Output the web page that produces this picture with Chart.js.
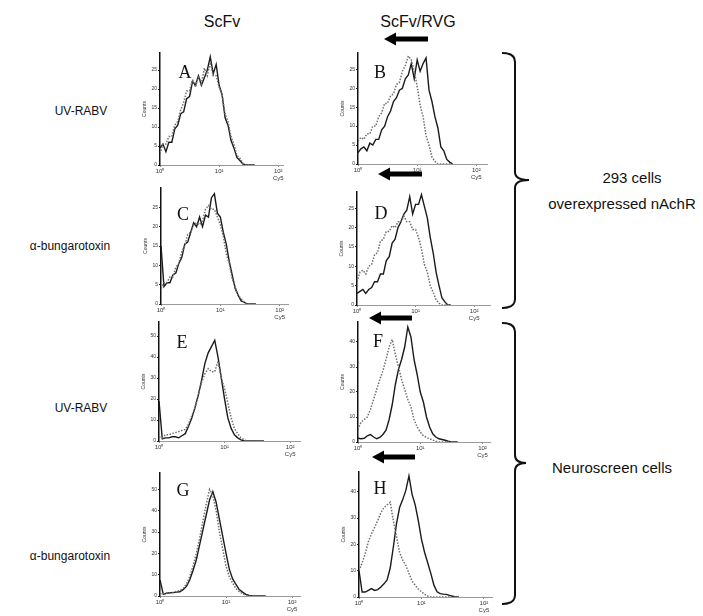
<!DOCTYPE html>
<html>
<head>
<meta charset="utf-8">
<script src="https://cdn.jsdelivr.net/npm/chart.js@4.4.1/dist/chart.umd.min.js"></script>
<style>
  body { margin: 0; background: #fff; }
  #fig { position: relative; width: 703px; height: 616px; overflow: hidden; font-family: Arial, "Liberation Sans", sans-serif; color: #111; }
  .lbl { position: absolute; white-space: nowrap; transform: translate(-50%, -50%); line-height: 1; }
  .head { font-size: 16px; }
  .row { font-size: 12px; }
  .side { font-size: 15px; }
  .letter { font-family: "Liberation Serif", "DejaVu Serif", serif; font-size: 18px; }
  canvas { position: absolute; }
  svg { position: absolute; left: 0; top: 0; }
</style>
</head>
<body>
<div id="fig">
  <div class="lbl head" style="left:222px; top:22px;">ScFv</div>
  <div class="lbl head" style="left:418px; top:22px;">ScFv/RVG</div>

  <div class="lbl row" style="left:81px; top:111px;">UV-RABV</div>
  <div class="lbl row" style="left:70px; top:246px;">α-bungarotoxin</div>
  <div class="lbl row" style="left:81px; top:408px;">UV-RABV</div>
  <div class="lbl row" style="left:70px; top:556px;">α-bungarotoxin</div>

  <div class="lbl side" style="left:632px; top:177px;">293 cells</div>
  <div class="lbl side" style="left:622px; top:203px;">overexpressed nAchR</div>
  <div class="lbl side" style="left:612px; top:467px;">Neuroscreen cells</div>

  <svg width="703" height="616">
    <g fill="#000">
      <path d="M384 39 L396 32.5 L396 36.5 L428 36.5 L428 41.5 L396 41.5 L396 45.5 Z"/>
      <path d="M378 174 L390 167.5 L390 171.5 L422 171.5 L422 176.5 L390 176.5 L390 180.5 Z"/>
      <path d="M369 318 L381 311.5 L381 315.5 L412 315.5 L412 320.5 L381 320.5 L381 324.5 Z"/>
      <path d="M372 457 L384 450.5 L384 454.5 L415 454.5 L415 459.5 L384 459.5 L384 463.5 Z"/>
    </g>
    <g fill="none" stroke="#111" stroke-width="2">
      <path d="M502 53 Q515 53 515 62 L515 172 Q515 180 529 180 Q515 180 515 188 L515 299 Q515 308 502 308"/>
      <path d="M502 323 Q515 323 515 332 L515 455 Q515 463 526 463 Q515 463 515 471 L515 595 Q515 604 502 604"/>
    </g>
  </svg>
</div>
<script>
// fluorescence bins, log10 of Cy5 intensity
const bins = [0, 0.05, 0.1, 0.15, 0.2, 0.25, 0.3, 0.35, 0.4, 0.45, 0.5, 0.55, 0.6, 0.65, 0.7, 0.75, 0.8,
              0.85, 0.9, 0.95, 1.0, 1.05, 1.1, 1.15, 1.2, 1.25, 1.3, 1.35, 1.4, 1.45, 1.5, 1.55, 1.6];

// counts per bin (solid = control, dotted = treated)
const solidA = [4.5, 5.5, 3.5, 6, 6, 9.5, 10.5, 13.5, 14, 17.5, 18, 22, 21, 23.5, 21, 23, 25, 28.5, 24, 26.5, 21, 18.5, 12.5, 10.5, 6.5, 4.5, 2, 1.2, 0.3, 0, 0, 0, 0];
const dottedA = [3, 5.5, 5.5, 7.5, 7.5, 10.5, 11.5, 14.5, 16.5, 19.5, 19.5, 22.5, 20.5, 23.5, 21.5, 25.5, 23.5, 27, 23.5, 23.5, 20.5, 18.5, 13.5, 11.5, 7.5, 5.5, 2.5, 1.8, 0.5, 0, 0, 0, 0];
const solidB = [3, 4, 4.5, 3.5, 5.5, 5, 6.5, 6.5, 9, 10, 12.5, 14, 16.5, 17.5, 19.5, 20, 22.5, 23.5, 26.5, 22.5, 27.5, 24.5, 26.5, 28, 19.5, 16.5, 12.5, 9.5, 4.5, 3.5, 1.2, 0.5, 0];
const dottedB = [6, 7, 6.5, 8, 8, 10, 10, 12.5, 13.5, 16, 16, 18, 18.5, 21, 21.5, 24.5, 26, 28.5, 27.5, 24.5, 20.5, 15.5, 12.5, 7.5, 5, 1.8, 0.7, 0, 0, 0, 0, 0, 0];
const solidC = [15, 4.5, 5.5, 5.5, 7.5, 8, 10.5, 12, 15.5, 16, 18.5, 21, 20, 22.5, 20, 23, 22.5, 27.5, 28.5, 23.5, 22.5, 18.5, 15.5, 11, 7.5, 4, 2.3, 0.8, 0.5, 0, 0, 0, 0];
const dottedC = [4, 5.5, 5.5, 7, 7, 9.5, 10.5, 13.5, 15, 18, 18.5, 20.5, 21, 20.5, 21.5, 24.5, 25.5, 24.5, 24.5, 22.5, 20.5, 17.5, 13, 10.5, 6.5, 4.5, 2.2, 1.4, 0.4, 0, 0, 0, 0];
const solidD = [3, 3.5, 4, 3, 4, 4.5, 6, 6, 8, 8, 11.5, 12.5, 16, 17, 20, 21.5, 23.5, 24.5, 28, 23.5, 26, 26, 28.5, 25.5, 22.5, 17.5, 13.5, 8.5, 5, 1.8, 0.8, 0, 0];
const dottedD = [6, 8.5, 9, 8, 10, 10.5, 13, 13.5, 16.5, 17, 19, 19, 20.5, 20, 21.5, 21.5, 23, 21.5, 21.5, 19.5, 19.5, 17.5, 14.5, 10.5, 8.5, 5, 3.3, 1.3, 0.5, 0, 0, 0, 0];
const solidE = [19, 1, 1.5, 1.5, 2, 2, 1.5, 2.5, 3.5, 7, 11, 16, 22, 29, 37, 42, 45, 48, 40, 30, 20, 11, 6, 3, 1.5, 0.5, 0, 0, 0, 0, 0, 0, 0];
const dottedE = [2, 1.5, 3, 3, 3.5, 4, 4.5, 5, 5.5, 8, 12, 16, 22, 28, 32, 34.5, 33, 33, 38, 30, 25, 18, 11, 6, 3.5, 1.5, 0.5, 0, 0, 0, 0, 0, 0];
const solidF = [1.5, 1.3, 1.5, 2.5, 3, 2, 1.3, 1.8, 3, 4.7, 9, 15, 23, 29, 33, 38, 46, 42, 33, 27, 20, 16, 10, 6, 3.3, 2, 1.3, 1, 0.7, 0.3, 0, 0, 0];
const dottedF = [5, 8, 9, 10, 13, 17, 21, 25, 28.5, 33, 38, 41, 35, 30, 25, 21, 17, 14, 9, 6, 4, 2.5, 1.8, 1.3, 0.8, 0.3, 0, 0, 0, 0, 0, 0, 0];
const solidG = [7.5, 0.8, 1.3, 1.5, 1.6, 1.8, 2, 3, 4.5, 7.5, 12, 17, 24, 31, 38, 45, 49, 44, 36, 28, 20, 12.5, 8, 5.5, 3, 1.8, 0.8, 0.3, 0, 0, 0, 0, 0];
const dottedG = [1, 1, 1.3, 1.5, 1.8, 2.2, 2.5, 3.5, 5.5, 9, 14, 20, 27, 35, 43, 50, 47, 40, 30, 22, 14, 9, 6, 3.5, 2, 1, 0.3, 0, 0, 0, 0, 0, 0];
const solidH = [10, 1.9, 1.9, 2.5, 3.2, 2.5, 2.8, 3.8, 5, 6.5, 11, 19, 27.8, 34, 37, 40.5, 46, 39, 35, 29, 22, 17, 13, 9, 4.5, 2, 1.3, 1.1, 1, 0.6, 0.3, 0, 0];
const dottedH = [10, 13, 16.5, 21, 24, 26.5, 29, 32, 34, 35, 36, 29, 23, 17, 14, 12, 9, 6, 4.5, 3, 2, 1, 0.4, 0, 0, 0, 0, 0, 0, 0, 0, 0, 0];

// axis ticks
const xTickExp = [0, 1, 2];
const xTickLabels = ['10⁰', '10¹', ['10²', 'Cy5']];
const yTicksSmall = [0, 5, 10, 15, 20, 25];
const yTicksLarge = [0, 10, 20, 30, 40, 50];

// panel placement: plot box [left, top, right, bottom] in page px, axis ranges
const panels = [
    { letter: 'A', solid: solidA, dotted: dottedA, yTicks: yTicksSmall, box: [160, 53, 283, 165], yMax: 29.5, xMax: 2.08, lx: 185, ly: 72 },
    { letter: 'B', solid: solidB, dotted: dottedB, yTicks: yTicksSmall, box: [358, 53, 487, 164], yMax: 29.3, xMax: 2.18, lx: 380, ly: 72 },
    { letter: 'C', solid: solidC, dotted: dottedC, yTicks: yTicksSmall, box: [161, 188, 288, 304], yMax: 30, xMax: 2.14, lx: 183, ly: 214 },
    { letter: 'D', solid: solidD, dotted: dottedD, yTicks: yTicksSmall, box: [357, 192, 490, 305], yMax: 29.2, xMax: 2.27, lx: 381, ly: 213 },
    { letter: 'E', solid: solidE, dotted: dottedE, yTicks: yTicksLarge, box: [159, 322, 300, 441], yMax: 56.7, xMax: 2.15, lx: 182, ly: 342 },
    { letter: 'F', solid: solidF, dotted: dottedF, yTicks: yTicksLarge, box: [358, 322, 490, 442], yMax: 48, xMax: 2.12, lx: 378, ly: 341 },
    { letter: 'G', solid: solidG, dotted: dottedG, yTicks: yTicksLarge, box: [160, 473, 300, 596], yMax: 57.7, xMax: 2.12, lx: 183, ly: 490 },
    { letter: 'H', solid: solidH, dotted: dottedH, yTicks: yTicksLarge, box: [359, 472, 492, 597], yMax: 47.5, xMax: 2.13, lx: 380, ly: 488 }
];

const fig = document.getElementById('fig');
const PAD_L = 18, PAD_B = 16, PAD_T = 2, PAD_R = 8;

function toPoints(values) {
    return bins.map((e, i) => ({ x: Math.pow(10, e), y: values[i] }));
}

function drawPanel(p) {
    const [L, T, R, B] = p.box;
    const cv = document.createElement('canvas');
    cv.width = R - L + PAD_L + PAD_R;
    cv.height = B - T + PAD_T + PAD_B;
    cv.style.left = (L - PAD_L) + 'px';
    cv.style.top = (T - PAD_T) + 'px';
    fig.appendChild(cv);

    const letter = document.createElement('div');
    letter.className = 'lbl letter';
    letter.style.left = p.lx + 'px';
    letter.style.top = p.ly + 'px';
    letter.textContent = p.letter;
    fig.appendChild(letter);

    new Chart(cv, {
        type: 'line',
        data: {
            datasets: [
                { data: toPoints(p.dotted), borderColor: '#6e6e6e', borderWidth: 1.5, borderDash: [1.5, 1.5] },
                { data: toPoints(p.solid), borderColor: '#1a1a1a', borderWidth: 1.4 }
            ]
        },
        options: {
            responsive: false,
            animation: false,
            layout: { padding: { top: PAD_T, right: PAD_R, left: 0, bottom: 0 } },
            plugins: { legend: { display: false }, tooltip: { enabled: false } },
            elements: { point: { radius: 0 }, line: { tension: 0 } },
            scales: {
                x: {
                    type: 'logarithmic',
                    min: 1,
                    max: Math.pow(10, p.xMax),
                    afterBuildTicks: s => { s.ticks = xTickExp.map(e => ({ value: Math.pow(10, e) })); },
                    afterFit: s => { s.height = PAD_B; s.paddingLeft = 0; s.paddingRight = 0; },
                    ticks: { callback: (v, i) => xTickLabels[i], font: { size: 6 }, color: '#333', padding: 1, maxRotation: 0, autoSkip: false },
                    grid: { drawOnChartArea: false, tickLength: 2, color: '#888' },
                    border: { color: '#9a9a9a', width: 1 }
                },
                y: {
                    min: 0,
                    max: p.yMax,
                    afterBuildTicks: s => { s.ticks = p.yTicks.filter(v => v <= p.yMax).map(v => ({ value: v })); },
                    afterFit: s => { s.width = PAD_L; s.paddingTop = 0; s.paddingBottom = 0; },
                    ticks: { font: { size: 5 }, color: '#333', padding: 1 },
                    grid: { drawOnChartArea: false, tickLength: 2, color: '#222' },
                    border: { color: '#111', width: 1.5 },
                    title: { display: true, text: 'Counts', font: { size: 5 }, color: '#333', padding: 0 }
                }
            }
        }
    });
}

panels.forEach(drawPanel);
</script>
</body>
</html>
